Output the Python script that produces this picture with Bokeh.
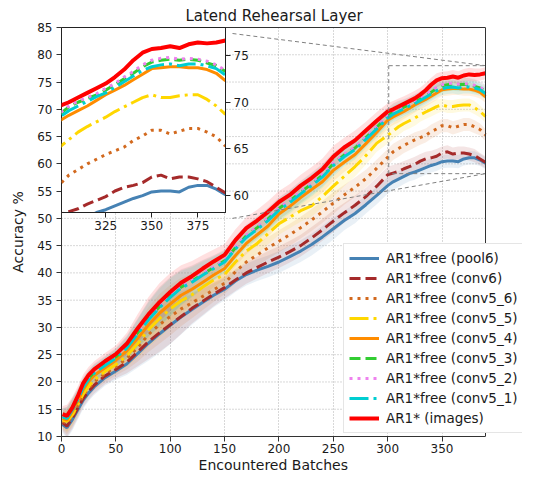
from bokeh.plotting import figure
from bokeh.models import Range1d, FixedTicker, Legend, LegendItem, GridBox, LinearAxis
from bokeh.embed import file_html
from bokeh.resources import INLINE

# ---------------- data ----------------
batches = [1, 5, 10, 15, 20, 25, 30, 40, 50, 60, 70, 80, 90, 100, 110, 120, 130, 140, 150,
           160, 170, 180, 190, 200, 210, 220, 230, 240, 250, 260, 270, 280, 290, 300,
           305, 310, 315, 320, 325, 330, 335, 340, 345, 350, 355, 360, 365, 370, 375, 380, 385, 390]

pool6 = [12.2, 11.6, 13.1, 14.9, 16.7, 18.0, 19.1,
         20.8, 22.0, 23.3, 25.2, 27.1, 28.8, 30.4, 31.9, 33.3, 34.6, 35.9, 37.0, 38.5, 39.7,
         40.5, 41.2, 42.0, 43.0, 44.0, 45.2, 46.6, 48.1, 49.6, 50.9, 52.5, 54.2, 56.0,
         56.7, 57.2, 57.7, 58.2, 58.5, 58.9, 59.3, 59.7, 60.0, 60.4, 60.5, 60.5, 60.4, 60.9, 61.1, 61.1, 60.7, 60.1]
conv6 = [12.5, 11.9, 13.4, 15.2, 17.0, 18.3, 19.4,
         21.1, 22.3, 23.6, 25.5, 27.4, 29.0, 30.5, 32.0, 33.5, 34.8, 36.1, 37.3, 38.7, 40.0,
         41.0, 42.0, 42.9, 43.9, 45.0, 46.4, 47.9, 49.5, 51.0, 52.4, 54.0, 55.9, 58.0,
         58.3, 58.6, 59.1, 59.5, 59.9, 60.5, 60.9, 61.1, 61.4, 62.0, 62.2, 61.8, 62.0, 62.0, 61.8, 61.5, 60.9, 60.3]
conv5_6 = [12.8, 12.4, 13.8, 15.6, 17.5, 18.9, 20.0,
           21.5, 22.8, 24.3, 26.3, 28.7, 30.5, 32.0, 33.4, 34.5, 35.7, 36.9, 38.1, 40.2, 42.0,
           43.3, 44.6, 45.8, 47.0, 48.3, 49.7, 51.2, 52.8, 54.3, 55.7, 57.3, 59.2, 61.2,
           62.2, 62.8, 63.4, 63.9, 64.4, 64.8, 65.2, 65.9, 66.4, 67.0, 67.0, 66.6, 66.9, 67.2, 67.2, 66.8, 66.3, 65.3]
conv5_5 = [13.0, 12.8, 14.0, 15.8, 17.8, 19.2, 20.4,
           21.9, 23.2, 24.8, 27.0, 29.6, 31.6, 33.4, 34.9, 36.0, 37.4, 38.7, 39.7, 42.0, 44.0,
           45.4, 47.2, 49.0, 50.2, 51.4, 52.3, 54.0, 55.9, 57.7, 59.5, 61.5, 63.8, 65.2,
           66.0, 66.8, 67.4, 67.9, 68.4, 69.0, 69.5, 70.0, 70.5, 70.8, 70.5, 70.5, 70.7, 70.8, 70.8, 70.3, 69.6, 68.7]
conv5_4 = [13.3, 13.0, 14.6, 16.5, 18.6, 20.1, 21.2,
           22.6, 24.0, 25.7, 28.0, 30.5, 32.6, 34.3, 35.9, 37.0, 38.3, 39.6, 40.8, 43.2, 45.4,
           47.0, 48.6, 50.8, 52.2, 53.8, 55.3, 56.7, 58.8, 60.3, 61.7, 63.7, 65.8, 68.0,
           68.6, 69.1, 69.6, 70.2, 70.8, 71.3, 71.8, 72.4, 73.0, 73.6, 73.7, 73.8, 73.8, 73.7, 73.7, 73.5, 73.1, 72.3]
conv5_3 = [13.7, 13.4, 15.0, 16.9, 19.2, 20.7, 21.8,
           23.2, 24.6, 26.4, 29.0, 31.6, 33.8, 35.7, 37.4, 38.5, 39.8, 41.0, 42.2, 44.6, 46.8,
           48.3, 49.9, 51.8, 53.2, 54.8, 56.3, 57.9, 60.0, 61.6, 62.9, 64.8, 66.7, 68.7,
           69.5, 70.0, 70.4, 70.8, 71.3, 71.9, 72.5, 73.1, 73.8, 74.3, 74.5, 74.6, 74.5, 74.6, 74.5, 74.2, 73.9, 73.3]
conv5_2 = [13.7, 13.5, 15.0, 17.0, 19.3, 20.8, 21.9,
           23.3, 24.7, 26.5, 29.1, 31.7, 33.9, 35.8, 37.5, 38.6, 39.9, 41.1, 42.3, 44.7, 46.9,
           48.4, 50.0, 51.9, 53.3, 54.9, 56.4, 58.0, 60.1, 61.7, 63.0, 64.9, 66.8, 68.8,
           69.6, 70.1, 70.5, 70.9, 71.5, 72.0, 72.7, 73.3, 74.0, 74.5, 74.7, 74.8, 74.6, 74.7, 74.6, 74.4, 74.0, 73.4]
conv5_1 = [13.6, 13.3, 14.9, 16.8, 19.0, 20.5, 21.6,
           23.0, 24.4, 26.2, 28.8, 31.4, 33.6, 35.5, 37.2, 38.3, 39.6, 40.8, 42.0, 44.4, 46.5,
           48.0, 49.6, 51.5, 52.9, 54.5, 56.0, 57.6, 59.7, 61.3, 62.6, 64.5, 66.4, 68.4,
           69.1, 69.6, 70.1, 70.6, 71.0, 71.6, 72.2, 72.8, 73.4, 73.8, 74.0, 74.1, 73.9, 74.1, 74.1, 73.9, 73.6, 72.9]
images = [14.1, 13.8, 15.3, 17.4, 19.8, 21.3, 22.3,
          23.8, 25.1, 27.0, 29.8, 32.4, 34.6, 36.5, 38.2, 39.4, 40.8, 42.1, 43.3, 46.0, 48.2,
          49.6, 51.2, 53.0, 54.3, 56.0, 57.4, 59.0, 61.3, 63.0, 64.3, 66.1, 67.9, 69.6,
          70.0, 70.5, 71.0, 71.5, 72.0, 72.7, 73.5, 74.5, 75.3, 75.7, 75.8, 76.0, 75.8, 76.2, 76.4, 76.3, 76.4, 76.6]
# half-width of the shaded bands
spread = [1.5, 2.0, 2.0, 1.8, 1.6, 1.5, 1.5,
          1.5, 1.6, 2.0, 2.6, 3.2, 3.5, 3.5, 3.2, 2.8, 2.5, 2.2, 2.0, 2.0, 2.0,
          2.0, 2.0, 2.0, 2.0, 2.0, 2.0, 2.0, 2.0, 1.8, 1.8, 1.6, 1.6, 1.5,
          1.5, 1.5, 1.4, 1.4, 1.4, 1.3, 1.3, 1.3, 1.3, 1.2, 1.2, 1.2, 1.2, 1.2, 1.2, 1.2, 1.1, 1.1]

labels = ["AR1*free (pool6)", "AR1*free (conv6)", "AR1*free (conv5_6)", "AR1*free (conv5_5)",
          "AR1*free (conv5_4)", "AR1*free (conv5_3)", "AR1*free (conv5_2)", "AR1*free (conv5_1)",
          "AR1* (images)"]
series = [pool6, conv6, conv5_6, conv5_5, conv5_4, conv5_3, conv5_2, conv5_1, images]

title_text = "Latend Rehearsal Layer"
x_label = "Encountered Batches"
y_label = "Accuracy %"
x_ticks = [0, 50, 100, 150, 200, 250, 300, 350]
y_ticks = [10, 15, 20, 25, 30, 35, 40, 45, 50, 55, 60, 65, 70, 75, 80, 85]
inset_x_ticks = [325, 350, 375]
inset_y_ticks = [60, 65, 70, 75]
main_x = (0, 390)
main_y = (10, 85)
inset_x = (301, 390)
inset_y = (58.2, 78.0)

# ---------------- styles ----------------
colors = ["#4682b4", "#a52a2a", "#d2691e", "#ffd700", "#ff8c00", "#32cd32", "#ee82ee", "#00ced1", "#ff0000"]
dashes = ["solid", "11 5", "3 5", "19 5 3 5", "solid", "11 5", "3 5", "19 5 3 5", "solid"]
widths = [3, 3, 3, 3, 3, 3, 3, 3, 4]
FONT = "DejaVu Sans"
TXT = "#1a1a1a"
SPINE = "#333333"
TICK_FS = 12
LABEL_FS = 14
TITLE_FS = 15

# ---------------- layout ----------------
TOTAL_W = 522
ML, MT, MB = 54, 21, 39
FW, FH = 424, 409          # the axes box (data area)
FRAME_W = TOTAL_W - ML     # drawing frame widened so the legend can overhang the axes box
INSET_BOX = (6.5, 157.3, 50.0, 83.9)   # inset placement, in main-axis data units
LEGEND_AT = (289, 3)                   # px from the frame's bottom-left corner

x_view_end = main_x[1] + (FRAME_W - FW) / FW * (main_x[1] - main_x[0])


def px_x(v):
    return ML + (v - main_x[0]) / (main_x[1] - main_x[0]) * FW


def px_y(v):
    return MT + (main_y[1] - v) / (main_y[1] - main_y[0]) * FH


def centred_on_box(text, font_px):
    # the frame is wider than the axes box; trailing no-break spaces (0.318 em each in
    # DejaVu Sans) move the centred text back over the axes box
    n = round((FRAME_W - FW) / (0.318 * font_px))
    return text + "\u00a0" * n


p = figure(frame_width=FRAME_W, frame_height=FH, min_border_left=ML, min_border_top=MT,
           min_border_right=0, min_border_bottom=MB,
           x_range=Range1d(main_x[0], x_view_end), y_range=Range1d(*main_y),
           output_backend="svg", toolbar_location=None, title=None,
           x_axis_label=centred_on_box(x_label, LABEL_FS), y_axis_label=y_label)
p.background_fill_color = "white"
p.border_fill_color = "white"
p.outline_line_color = None

p.xaxis.ticker = FixedTicker(ticks=x_ticks)
p.yaxis.ticker = FixedTicker(ticks=y_ticks)
for ax in (p.xaxis[0], p.yaxis[0]):
    ax.major_label_text_font = FONT
    ax.major_label_text_font_size = f"{TICK_FS}px"
    ax.major_label_text_color = TXT
    ax.axis_label_text_font = FONT
    ax.axis_label_text_font_size = f"{LABEL_FS}px"
    ax.axis_label_text_font_style = "normal"
    ax.axis_label_text_color = TXT
    ax.major_tick_out = 5
    ax.major_tick_in = 0
    ax.minor_tick_out = 0
    ax.minor_tick_in = 0
    ax.major_tick_line_color = SPINE
    ax.axis_line_color = SPINE
p.xaxis.bounds = main_x            # bottom spine stops at the axes box
p.xaxis.major_label_standoff = 2
p.xaxis.axis_label_standoff = 1
p.yaxis.major_label_standoff = 4
p.yaxis.axis_label_standoff = 8

# top spine + chart title
top = LinearAxis(ticker=FixedTicker(ticks=[]), bounds=main_x,
                 axis_label=centred_on_box(title_text, TITLE_FS),
                 axis_line_color=SPINE, major_tick_out=0, major_tick_in=0,
                 minor_tick_out=0, minor_tick_in=0, major_label_standoff=0,
                 axis_label_standoff=3, axis_label_text_font=FONT,
                 axis_label_text_font_size=f"{TITLE_FS}px", axis_label_text_font_style="normal",
                 axis_label_text_color=TXT)
p.add_layout(top, "above")

# grid: vertical lines from the ticker, horizontal lines limited to the axes box
p.xgrid.grid_line_color = "#b0b0b0"
p.xgrid.grid_line_dash = "1 2"
p.ygrid.visible = False
p.segment(x0=[main_x[0]] * len(y_ticks), y0=y_ticks, x1=[main_x[1]] * len(y_ticks), y1=y_ticks,
          line_color="#b0b0b0", line_dash="1 2", line_width=1, level="underlay")

for ys, col in zip(series, colors):
    lo = [v - s for v, s in zip(ys, spread)]
    hi = [v + s for v, s in zip(ys, spread)]
    p.varea(x=batches, y1=lo, y2=hi, fill_color=col, fill_alpha=0.12)

items = []
for lab, ys, col, dash, lw in zip(labels, series, colors, dashes, widths):
    r = p.line(batches, ys, line_color=col, line_dash=dash, line_width=lw)
    items.append(LegendItem(label=lab, renderers=[r]))

# zoom rectangle and connector lines
p.quad(left=[inset_x[0]], right=[inset_x[1]], bottom=[inset_y[0]], top=[inset_y[1]],
       fill_color=None, line_color="#808080", line_dash="4 3", line_width=1)
p.segment(x0=[INSET_BOX[1], INSET_BOX[1]], y0=[INSET_BOX[3], INSET_BOX[2]],
          x1=[inset_x[1], inset_x[1]], y1=[inset_y[1], inset_y[0]],
          line_color="#808080", line_dash="4 3", line_width=1)

# right spine of the axes box
p.segment(x0=[main_x[1]], y0=[main_y[0]], x1=[main_x[1]], y1=[main_y[1]],
          line_color=SPINE, line_width=1)

legend = Legend(items=items, location=LEGEND_AT)
legend.label_text_font = FONT
legend.label_text_font_size = "13.5px"
legend.label_text_color = TXT
legend.glyph_width = 30
legend.glyph_height = 18
legend.label_height = 18
legend.label_standoff = 7
legend.spacing = 2
legend.padding = 5
legend.margin = 0
legend.border_line_color = "#cccccc"
legend.border_line_width = 1
legend.background_fill_color = "white"
legend.background_fill_alpha = 1
p.add_layout(legend)

# ---------------- inset ----------------
in_left = round(px_x(INSET_BOX[0]))
in_right = round(px_x(INSET_BOX[1]))
in_top = round(px_y(INSET_BOX[3]))
in_bottom = round(px_y(INSET_BOX[2]))

ins = figure(frame_width=in_right - in_left, frame_height=in_bottom - in_top,
             min_border_left=in_left, min_border_top=in_top,
             min_border_right=34, min_border_bottom=28,
             x_range=Range1d(*inset_x), y_range=Range1d(*inset_y),
             y_axis_location="right", title=None,
             output_backend="svg", toolbar_location=None)
ins.background_fill_color = "white"
ins.border_fill_color = None
ins.outline_line_color = "#222222"
ins.outline_line_width = 1
ins.grid.visible = False
ins.xaxis.ticker = FixedTicker(ticks=inset_x_ticks)
ins.yaxis.ticker = FixedTicker(ticks=inset_y_ticks)
for ax in (ins.xaxis[0], ins.yaxis[0]):
    ax.major_label_text_font = FONT
    ax.major_label_text_font_size = f"{TICK_FS}px"
    ax.major_label_text_color = TXT
    ax.major_tick_out = 5
    ax.major_tick_in = 0
    ax.minor_tick_out = 0
    ax.minor_tick_in = 0
    ax.axis_line_color = "#222222"
    ax.major_tick_line_color = "#222222"
    ax.major_label_standoff = 3

for ys, col, dash, lw in zip(series, colors, dashes, widths):
    ins.line(batches, ys, line_color=col, line_dash=dash, line_width=lw)

layout = GridBox(children=[(p, 0, 0), (ins, 0, 0)], spacing=0)

open("out.html", "w").write(file_html(layout, INLINE))
